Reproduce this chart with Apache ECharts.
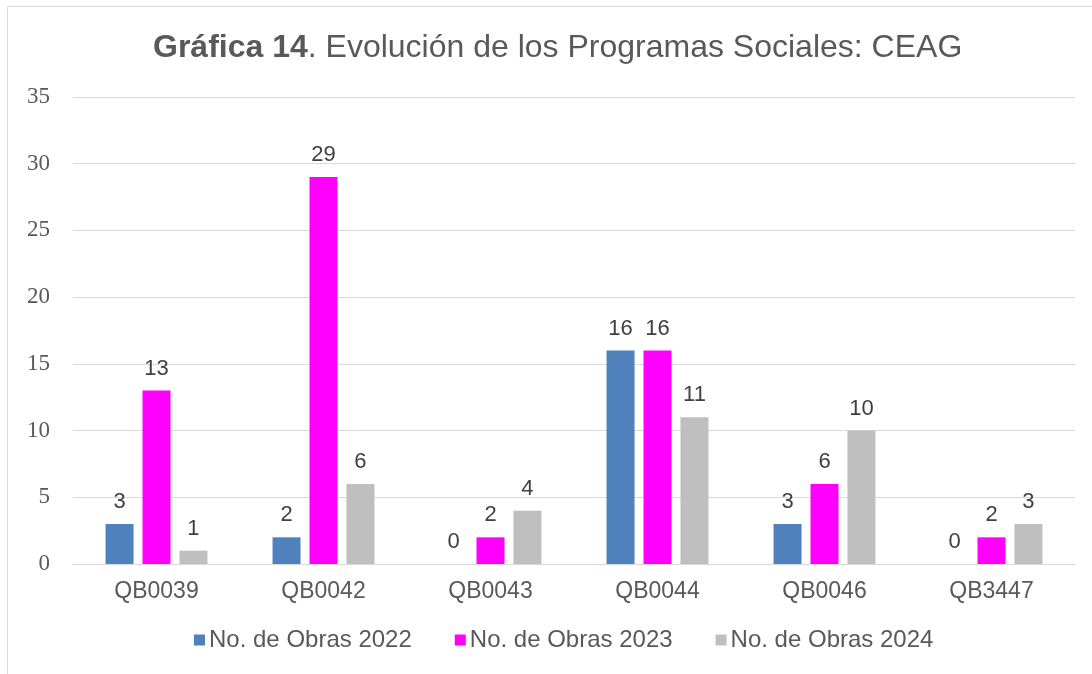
<!DOCTYPE html>
<html>
<head>
<meta charset="utf-8">
<script src="https://cdn.jsdelivr.net/npm/echarts@6/dist/echarts.min.js"></script>
<style>
  html, body { margin: 0; padding: 0; background: #fff; }
  #chart { width: 1092px; height: 674px; }
</style>
</head>
<body>
<div id="chart"></div>
<script>
// datos
const categorias = ['QB0039', 'QB0042', 'QB0043', 'QB0044', 'QB0046', 'QB3447'];
const obras2022 = [3, 2, 0, 16, 3, 0];
const obras2023 = [13, 29, 2, 16, 6, 2];
const obras2024 = [1, 6, 4, 11, 10, 3];
const nombres = ['No. de Obras 2022', 'No. de Obras 2023', 'No. de Obras 2024'];
const colores = ['#4f81bd', '#ff00ff', '#bfbfbf'];

const myChart = echarts.init(document.getElementById('chart'));

const serie = (name, data, color) => ({
  name: name,
  type: 'bar',
  data: data,
  barWidth: 28,
  barGap: '32%',
  itemStyle: { color: color },
  label: {
    show: true,
    position: 'top',
    distance: 11,
    color: '#404040',
    fontSize: 22,
    fontFamily: 'Liberation Sans'
  }
});

const option = {
  animation: false,
  graphic: [
    {
      type: 'rect',
      shape: { x: 7.5, y: 6.5, width: 1100, height: 700 },
      style: { fill: 'none', stroke: '#d9d9d9', lineWidth: 1 },
      silent: true
    }
  ],
  title: {
    text: '{b|Gráfica 14}{n|. Evolución de los Programas Sociales: CEAG}',
    left: 148,
    top: 27,
    textStyle: {
      rich: {
        b: { fontSize: 32, fontWeight: 'bold', color: '#595959', fontFamily: 'Liberation Sans' },
        n: { fontSize: 32, fontWeight: 'normal', color: '#595959', fontFamily: 'Liberation Sans' }
      }
    }
  },
  grid: {
    left: 73,
    right: 17,
    top: 97,
    bottom: 110
  },
  legend: {
    data: nombres,
    bottom: 17,
    left: 189,
    itemWidth: 11,
    itemHeight: 11,
    itemGap: 43,
    icon: 'rect',
    textStyle: {
      color: '#595959',
      fontSize: 24,
      fontFamily: 'Liberation Sans',
      padding: [0, 0, 0, -1]
    }
  },
  xAxis: {
    type: 'category',
    data: categorias,
    axisLine: { lineStyle: { color: '#d9d9d9', width: 1 } },
    axisTick: { show: false },
    axisLabel: {
      color: '#595959',
      fontSize: 23,
      fontFamily: 'Liberation Sans',
      margin: 16
    }
  },
  yAxis: {
    type: 'value',
    min: 0,
    max: 35,
    interval: 5,
    axisLine: { show: false },
    axisTick: { show: false },
    splitLine: { lineStyle: { color: '#d9d9d9', width: 1 } },
    axisLabel: {
      color: '#595959',
      fontSize: 23,
      fontFamily: 'Liberation Serif',
      margin: 23
    }
  },
  series: [
    serie(nombres[0], obras2022, colores[0]),
    serie(nombres[1], obras2023, colores[1]),
    serie(nombres[2], obras2024, colores[2])
  ]
};
option && myChart.setOption(option);
</script>
</body>
</html>
